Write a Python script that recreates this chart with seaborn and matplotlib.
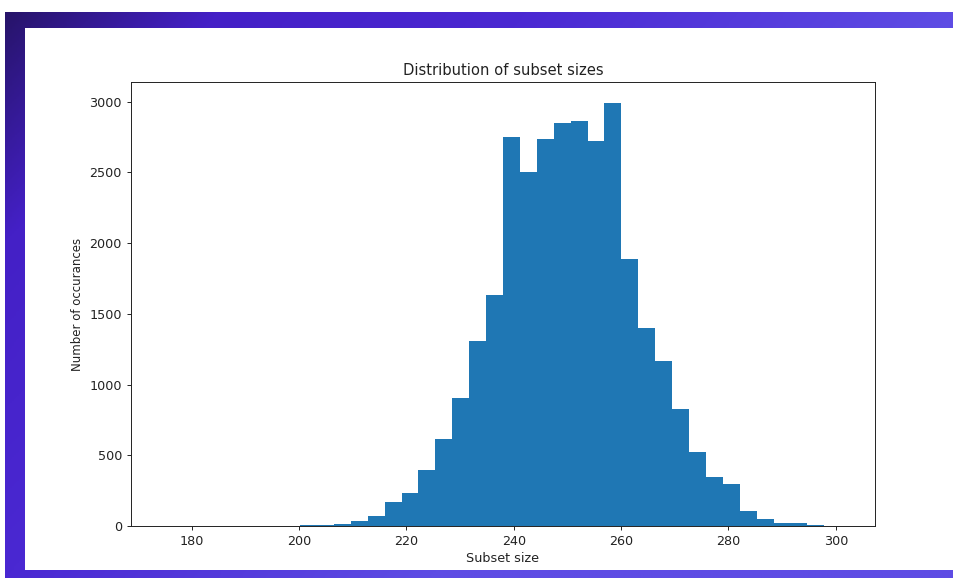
import numpy as np
import pandas as pd
import seaborn as sns
import matplotlib.pyplot as plt
from matplotlib.colors import LinearSegmentedColormap

# subset sizes range over 175..301, split into 40 equal bins
size_min = 175
size_max = 301
n_bins = 40

# occurrences per bin (left to right)
counts = [
    1, 0, 0, 0, 0, 0, 0, 0,
    8, 10, 14, 33, 71, 172, 236, 396, 615, 905, 1307, 1630,
    2754, 2500, 2738, 2853, 2865, 2719, 2990,
    1887, 1403, 1170, 824, 523, 349, 295, 104, 50, 20, 18, 6, 2,
]

title = 'Distribution of subset sizes'
xlabel = 'Subset size'
ylabel = 'Number of occurances'


def make_df():
    edges = np.linspace(size_min, size_max, n_bins + 1)
    centers = (edges[:-1] + edges[1:]) / 2
    return pd.DataFrame({'size': centers, 'count': counts})


def draw_backdrop(fig):
    # purple slide frame behind the white chart panel
    bg = fig.add_axes([5 / 954, 0, 1 - 5 / 954, 1 - 12 / 578])
    u = np.linspace(0, 1, 400)[None, :]
    v = np.linspace(0, 1, 240)[:, None]
    t = np.clip(u * 1.0 + v * 0.55, 0, 1)
    cmap = LinearSegmentedColormap.from_list(
        'slide', [(0, '#27146a'), (0.22, '#4420c6'), (0.55, '#4a28d2'), (1, '#5e4ce4')])
    bg.imshow(t, cmap=cmap, aspect='auto', extent=(0, 1, 0, 1), vmin=0, vmax=1)
    bg.set_axis_off()

    panel = fig.add_axes([25 / 954, 8 / 578, 1 - 25 / 954, (570 - 28) / 578])
    panel.set_facecolor('white')
    panel.set_xticks([])
    panel.set_yticks([])
    for s in panel.spines.values():
        s.set_visible(False)


def plot_hist(df, outfile):
    fig = plt.figure(figsize=(9.54, 5.78), dpi=100)
    fig.patch.set_facecolor('white')
    draw_backdrop(fig)

    ax = fig.add_axes([131 / 954, 1 - 526 / 578, (875 - 131) / 954, (526 - 82) / 578])
    sns.histplot(data=df, x='size', weights='count', bins=n_bins,
                 binrange=(size_min, size_max), color='#1f77b4',
                 alpha=1, linewidth=0, ax=ax)

    ax.set_title(title, fontsize=10.6, pad=5, color='#222222')
    ax.set_xlabel(xlabel, fontsize=9.2, labelpad=3, color='#222222')
    ax.set_ylabel(ylabel, fontsize=8.5, labelpad=4, color='#222222')
    ax.set_xticks([180, 200, 220, 240, 260, 280, 300])
    ax.set_yticks([0, 500, 1000, 1500, 2000, 2500, 3000])
    ax.tick_params(labelsize=9.2, length=3, width=0.7, colors='#222222')
    for s in ax.spines.values():
        s.set_visible(True)
        s.set_linewidth(0.7)
        s.set_color('#222222')

    fig.savefig(outfile, dpi=100)
    plt.close(fig)


def main():
    sns.set_style('ticks')
    plt.rcParams['font.family'] = ['DejaVu Sans']
    df = make_df()
    plot_hist(df, 'out.png')


if __name__ == '__main__':
    main()
